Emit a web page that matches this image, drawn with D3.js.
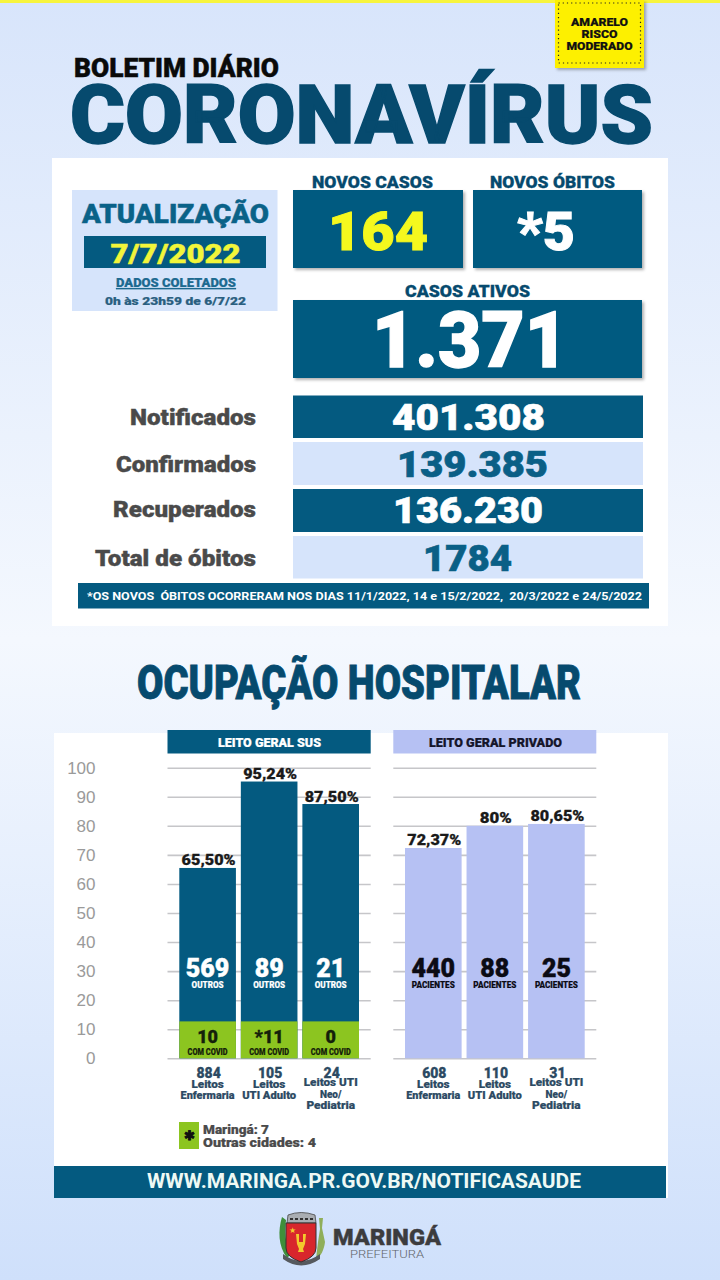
<!DOCTYPE html>
<html>
<head>
<meta charset="utf-8">
<script src="https://cdn.jsdelivr.net/npm/d3@7"></script>
<style>
  html, body { margin: 0; padding: 0; background: #e8f0fd; }
  svg { display: block; }
  text { font-family: Roboto, sans-serif; }
</style>
</head>
<body>
<div id="chart"></div>
<script>
// values read from the bulletin
const riskLines = ["AMARELO", "RISCO", "MODERADO"];
const statNames = ["Notificados", "Confirmados", "Recuperados", "Total de óbitos"];
const statValues = ["401.308", "139.385", "136.230", "1784"];

const yTicks = [0, 10, 20, 30, 40, 50, 60, 70, 80, 90, 100];

const bedCategories = ["Enfermaria", "UTI Adulto", "UTI Neo/Pediatria"];
const bedLabelLines = [["Leitos", "Enfermaria"], ["Leitos", "UTI Adulto"], ["Leitos UTI", "Neo/", "Pediatria"]];

const susPercent = [65.5, 95.24, 87.5];
const susPercentLabels = ["65,50%", "95,24%", "87,50%"];
const susOthers = ["569", "89", "21"];
const susCovid = ["10", "*11", "0"];
const susCovidBand = [12.7, 12.7, 12.7]; // green block height as drawn, not to scale with the count
const susBeds = ["884", "105", "24"];

const privatePercent = [72.37, 80, 80.65];
const privatePercentLabels = ["72,37%", "80%", "80,65%"];
const privatePatients = ["440", "88", "25"];
const privateBeds = ["608", "110", "31"];

const darkBlue = "#045a80";
const titleBlue = "#064a6e";
const paleBlue = "#d6e4fb";
const lavender = "#b6c1f3";
const green = "#8cc520";

const svg = d3.select("#chart").append("svg")
  .attr("width", 720)
  .attr("height", 1280);

const defs = svg.append("defs");
const bg = defs.append("linearGradient")
  .attr("id", "bg")
  .attr("x1", 0).attr("y1", 0).attr("x2", 0).attr("y2", 1);
bg.append("stop").attr("offset", "0%").attr("stop-color", "#d8e5fb");
bg.append("stop").attr("offset", "50%").attr("stop-color", "#f4f8fe");
bg.append("stop").attr("offset", "100%").attr("stop-color", "#cfe0fb");

const shadow = defs.append("filter").attr("id", "shadow")
  .attr("x", "-5%").attr("y", "-5%").attr("width", "112%").attr("height", "115%");
shadow.append("feDropShadow")
  .attr("dx", 2).attr("dy", 2).attr("stdDeviation", 1.5)
  .attr("flood-color", "#000").attr("flood-opacity", 0.3);

function box(parent, x0, y0, x1, y1, fill) {
  return parent.append("rect")
    .attr("x", x0).attr("y", y0)
    .attr("width", x1 - x0).attr("height", y1 - y0)
    .attr("fill", fill);
}

// width is optional, the fonts here are not the ones of the poster so long strings get fitted
function label(parent, str, x, y, size, weight, fill, width, anchor) {
  const t = parent.append("text")
    .attr("x", x).attr("y", y)
    .attr("font-size", size)
    .attr("font-weight", weight)
    .attr("fill", fill)
    .attr("text-anchor", anchor || "middle")
    .text(str);
  if (width) {
    t.attr("textLength", width).attr("lengthAdjust", "spacingAndGlyphs");
  }
  // the poster face is heavier than Roboto Black
  if (weight === 900) {
    t.attr("stroke", fill).attr("stroke-width", size * 0.018);
  }
  return t;
}

// page background and panels
box(svg, 0, 0, 720, 1280, "url(#bg)");
box(svg, 0, 0, 720, 3, "#f7f43c");
box(svg, 52, 158, 668, 626, "#ffffff");
box(svg, 54, 733, 668, 1198, "#ffffff");

// risk badge
box(svg, 555, 0, 644, 68, "#fdf000").attr("filter", "url(#shadow)");
svg.append("rect")
  .attr("x", 558.5).attr("y", 3).attr("width", 82).attr("height", 60)
  .attr("fill", "none").attr("stroke", "#222")
  .attr("stroke-width", 1.2).attr("stroke-dasharray", "1.2 3");
label(svg, riskLines[0], 599.5, 26, 11, 900, "#111", 57);
label(svg, riskLines[1], 599.5, 38, 11, 900, "#111", 36);
label(svg, riskLines[2], 599.5, 50, 11, 900, "#111", 66);

// title
label(svg, "BOLETIM DIÁRIO", 176.5, 77, 25, 900, "#0a0a0a", 205);
label(svg, "CORONAVÍRUS", 361.5, 143, 82, 900, titleBlue, 583);

// update box
box(svg, 72, 190, 277.5, 311, paleBlue);
box(svg, 84, 236, 266, 268, darkBlue);
label(svg, "ATUALIZAÇÃO", 175.5, 223, 25, 900, "#0a6288", 187);
label(svg, "7/7/2022", 175.5, 262.5, 26, 900, "#f2f53a", 130);
label(svg, "DADOS COLETADOS", 176, 287, 12, 900, "#1d6a90", 120)
  .attr("text-decoration", "underline");
label(svg, "0h às 23h59 de 6/7/22", 175.5, 305, 11.5, 900, "#2a5f80", 141);

// headline cards
box(svg, 293, 190, 463, 268, darkBlue).attr("filter", "url(#shadow)");
box(svg, 473, 190, 642, 268, darkBlue).attr("filter", "url(#shadow)");
box(svg, 293, 300, 642, 378, darkBlue).attr("filter", "url(#shadow)");
label(svg, "NOVOS CASOS", 372.5, 188, 17, 900, titleBlue, 121);
label(svg, "NOVOS ÓBITOS", 552.5, 188, 17, 900, titleBlue, 125);
label(svg, "CASOS ATIVOS", 467.5, 297, 17, 900, titleBlue, 125);
label(svg, "164", 378, 250, 54, 900, "#f5f81e", 100);
label(svg, "*5", 546, 250, 54, 900, "#ffffff", 58);
label(svg, "1.371", 470, 367, 77, 900, "#ffffff", 196);

// totals table
const statRows = [[395.5, 438], [442, 485], [489, 532], [536, 578.5]];
const statLabelY = [425, 472, 517, 566];
const statLabelW = [126, 140, 143, 161];
const statValueY = [430, 477, 523, 571];
const statValueX = [468.5, 472.5, 468, 467.5];
const statValueW = [153, 151, 150, 89];
statNames.forEach((name, i) => {
  const odd = i % 2 === 0;
  box(svg, 293, statRows[i][0], 643, statRows[i][1], odd ? darkBlue : paleBlue);
  label(svg, name, 256, statLabelY[i], 21.5, 900, "#4a4a4a", statLabelW[i], "end");
  label(svg, statValues[i], statValueX[i], statValueY[i], 37, 900, odd ? "#ffffff" : "#0a5f86", statValueW[i]);
});

box(svg, 78, 583, 649, 608.5, darkBlue);
label(svg, "*OS NOVOS  ÓBITOS OCORRERAM NOS DIAS 11/1/2022, 14 e 15/2/2022,  20/3/2022 e 24/5/2022",
  364.5, 600, 11.5, 700, "#ffffff", 555).attr("xml:space", "preserve");

// hospital section
label(svg, "OCUPAÇÃO HOSPITALAR", 359, 699, 48, 900, titleBlue, 444);

const y = d3.scaleLinear().domain([0, 100]).range([1058.3, 767.7]);

const yAxis = svg.append("g")
  .attr("transform", "translate(95.5,0)")
  .call(d3.axisLeft(y).tickValues(yTicks).tickSize(0).tickPadding(0));
yAxis.select(".domain").remove();
yAxis.selectAll("text")
  .style("font-family", "'Liberation Sans', Arial, sans-serif")
  .style("font-size", "17px")
  .attr("fill", "#9a9a9a");

function drawBars(opts) {
  const x = d3.scaleBand()
    .domain(bedCategories)
    .range(opts.range)
    .paddingInner(0.08);

  const g = svg.append("g");

  box(g, opts.gridX[0], 730, opts.gridX[1], 753.5, opts.headFill);
  label(g, opts.title, opts.titleX, 746.5, 12.5, 900, opts.headText, opts.titleW);

  const grid = g.append("g")
    .attr("transform", `translate(${opts.gridX[0]},0)`)
    .call(d3.axisLeft(y).tickValues(yTicks)
      .tickSize(-(opts.gridX[1] - opts.gridX[0])).tickFormat(""));
  grid.select(".domain").remove();
  grid.selectAll("line").attr("stroke", "#c6c6c9").attr("stroke-width", 1.6);

  bedCategories.forEach((cat, i) => {
    const left = x(cat);
    const mid = left + x.bandwidth() / 2;

    g.append("rect")
      .attr("x", left).attr("y", y(opts.percent[i]))
      .attr("width", x.bandwidth())
      .attr("height", y(0) - y(opts.percent[i]))
      .attr("fill", opts.barFill);

    const pct = opts.percentLabels[i];
    label(g, pct, mid + 1, y(opts.percent[i]) - 2.5, 14.5, 900, "#1a1a1a", pct.length * 7.33 + 10);
    label(g, opts.inside[i], mid, 976.5, 25, 900, opts.insideFill);
    label(g, opts.insideName, mid, 987.5, 9, 900, opts.insideFill, opts.insideW);

    if (opts.covid) {
      g.append("rect")
        .attr("x", left).attr("y", y(opts.covidBand[i]))
        .attr("width", x.bandwidth())
        .attr("height", y(0) - y(opts.covidBand[i]))
        .attr("fill", green);
      label(g, opts.covid[i], mid, 1043, 18, 900, "#14200a");
      label(g, "COM COVID", mid, 1055, 9, 900, "#14200a", 40);
    }

    // beds count and category under each bar
    label(g, opts.beds[i], mid + 1, 1078, 14, 900, "#2c4a63");
    const lines = bedLabelLines[i];
    const firstLine = lines.length === 3 ? 1086 : 1087.5;
    lines.forEach((line, j) => {
      label(g, line, mid, firstLine + j * 11.6, 11, 900, "#2c4a63", line.length * 5.4);
    });
  });
}

drawBars({
  title: "LEITO GERAL SUS", titleX: 269.5, titleW: 103,
  range: [179.3, 359], gridX: [167.5, 370.7],
  headFill: darkBlue, headText: "#ffffff", barFill: darkBlue,
  percent: susPercent, percentLabels: susPercentLabels,
  inside: susOthers, insideName: "OUTROS", insideW: 32, insideFill: "#ffffff",
  covid: susCovid, covidBand: susCovidBand, beds: susBeds
});

drawBars({
  title: "LEITO GERAL PRIVADO", titleX: 495.5, titleW: 133,
  range: [405, 584.7], gridX: [393.3, 596.3],
  headFill: lavender, headText: "#15152a", barFill: lavender,
  percent: privatePercent, percentLabels: privatePercentLabels,
  inside: privatePatients, insideName: "PACIENTES", insideW: 43, insideFill: "#0b0b14",
  beds: privateBeds
});

// legend for the asterisk
box(svg, 179, 1122, 199, 1149, green);
label(svg, "✱", 189, 1140, 13, 900, "#111");
label(svg, "Maringá: 7", 203, 1134, 13, 900, "#4a4a4a", 66, "start");
label(svg, "Outras cidades: 4", 203, 1147, 13, 900, "#4a4a4a", 113, "start");

// footer
box(svg, 54, 1166, 666, 1198, darkBlue);
label(svg, "WWW.MARINGA.PR.GOV.BR/NOTIFICASAUDE", 364, 1188, 19.5, 700, "#eef9f4", 434);

// city crest, simplified
const crest = svg.append("g").attr("transform", "translate(279,1212)");
crest.append("path") // laurel
  .attr("d", "M3 5 C-1 18 -1 34 8 46 L11 43 C6 32 6 18 7 8 Z")
  .attr("fill", "#3f8f3a");
crest.append("path") // wheat
  .attr("d", "M40 6 L44 6 L43 16 L46 30 C45 38 42 44 37 47 L39 30 L41 17 Z")
  .attr("fill", "#8fae5a");
crest.append("path") // crown
  .attr("d", "M8 11 L9 3 Q22 -2 36 3 L37 11 Z")
  .attr("fill", "#a9adb2").attr("stroke", "#444").attr("stroke-width", 0.8);
crest.append("path")
  .attr("d", "M11 7 L34 7")
  .attr("stroke", "#333").attr("stroke-width", 2).attr("stroke-dasharray", "3 2");
crest.append("path") // banner
  .attr("d", "M4 42 Q22 56 41 42 L41 47 Q22 60 4 47 Z")
  .attr("fill", "#55595e");
crest.append("path") // shield
  .attr("d", "M7 11 L37 11 L37 36 Q37 45 22 50 Q7 45 7 36 Z")
  .attr("fill", "#d8262c").attr("stroke", "#333").attr("stroke-width", 1);
crest.append("path") // lyre
  .attr("d", "M17 22 L20 22 L20 30 L24 30 L24 22 L27 22 L26 32 L24 37 L25 40 L19 40 L20 37 L18 32 Z")
  .attr("fill", "#f3c92c");
label(crest, "★", 13, 21, 8, 400, "#f3c92c");

label(svg, "MARINGÁ", 387, 1245, 22, 900, "#3c3c3e", 108);
label(svg, "PREFEITURA", 387, 1258, 11, 300, "#5f6469", 74);
</script>
</body>
</html>
